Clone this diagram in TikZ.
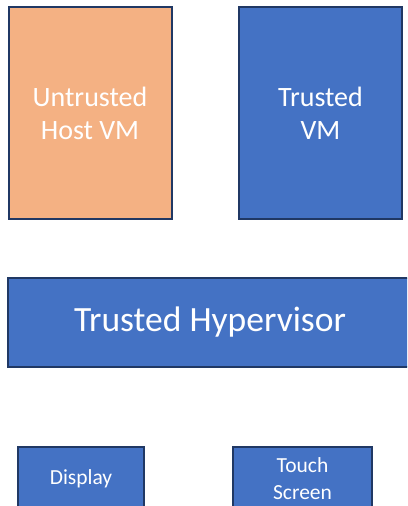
\documentclass[tikz,border=0pt]{standalone}
\usepackage{fontspec}
\setmainfont{Carlito}
\usepackage{tikz}

\definecolor{vmorange}{HTML}{F4B183}
\definecolor{vmblue}{HTML}{4472C4}
\definecolor{vmedge}{HTML}{203864}

\begin{document}
\begin{tikzpicture}[x=1pt,y=-1pt]
\tikzstyle{box}=[draw=vmedge, line width=2pt, inner sep=0pt, text=white, align=center]
\tikzstyle{vm}=[box, minimum width=163pt, minimum height=212pt, font=\fontsize{28}{33}\selectfont]
\tikzstyle{dev}=[box, fill=vmblue, minimum height=63pt, font=\fontsize{21.5}{27}\selectfont]
\useasboundingbox (0,0) rectangle (407,506);
\clip (0,0) rectangle (407,506);
\node [vm, fill=vmorange] (host) at (90,113) {Untrusted\\Host VM};
\node [vm, fill=vmblue] (tvm) at (320.5,113) {Trusted\\VM};
\node [box, fill=vmblue, minimum width=404pt, minimum height=89pt,
  font=\fontsize{35.5}{42}\selectfont] (hyp) at (210,322.5) {Trusted Hypervisor};
\node [dev, minimum width=126pt] (disp) at (81,478.5) {Display};
\node [dev, minimum width=139pt] (touch) at (302.5,478.5) {Touch\\Screen};
\end{tikzpicture}
\end{document}
